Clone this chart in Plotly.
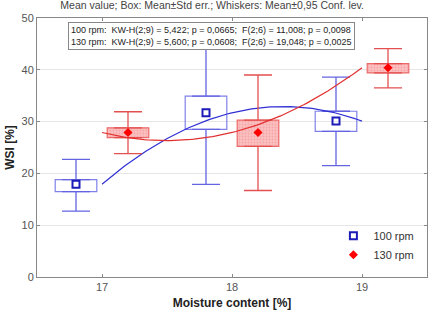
import numpy as np
import plotly.graph_objects as go

moisture = [17, 18, 19]
series = ["100 rpm", "130 rpm"]
# 100 rpm
mean_100 = [17.9, 31.7, 30.1]
box_lo_100 = [16.5, 28.5, 28.1]
box_hi_100 = [18.8, 34.9, 32.0]
wh_lo_100 = [12.7, 17.9, 21.5]
wh_hi_100 = [22.7, 45.5, 38.6]
# 130 rpm
mean_130 = [27.9, 27.9, 40.4]
box_lo_130 = [26.9, 25.2, 39.4]
box_hi_130 = [28.8, 30.3, 41.2]
wh_lo_130 = [23.8, 16.7, 36.5]
wh_hi_130 = [31.9, 39.0, 44.1]

offsets = [-0.2, 0.2]
box_width = 0.32

stats_lines = [
    "100 rpm:  KW-H(2;9) = 5,422; p = 0,0665;  F(2;6) = 11,008; p = 0,0098",
    "130 rpm:  KW-H(2;9) = 5,600; p = 0,0608;  F(2;6) = 19,048; p = 0,0025",
]

styles = [
    dict(line="#8080ea", fill="rgba(255,255,255,0)", whisk="#6464e2", curve="#3030d4",
         marker=dict(symbol="square-open", size=7, color="#1c1cb8", line=dict(width=2, color="#1c1cb8")),
         pattern=None),
    dict(line="#ec6a6a", fill="#fbc0c0", whisk="#e45050", curve="#e23030",
         marker=dict(symbol="diamond", size=7, color="#ff0000"),
         pattern=dict(shape=".", fgcolor="#f08a8a", size=3, solidity=0.3)),
]

data = [
    (mean_100, box_lo_100, box_hi_100, wh_lo_100, wh_hi_100),
    (mean_130, box_lo_130, box_hi_130, wh_lo_130, wh_hi_130),
]

fig = go.Figure()
xfine = np.linspace(min(moisture), max(moisture), 100)

for name, off, st, (m, blo, bhi, wlo, whi) in zip(series, offsets, styles, data):
    xs = [x + off for x in moisture]
    marker = dict(color=st["fill"], line=dict(color=st["line"], width=1.2))
    if st["pattern"]:
        marker["pattern"] = st["pattern"]
    fig.add_trace(go.Bar(x=xs, y=[h - l for h, l in zip(bhi, blo)], base=blo, width=box_width,
                         marker=marker, showlegend=False, hoverinfo="skip"))
    # upper whiskers
    fig.add_trace(go.Scatter(x=xs, y=bhi, mode="markers", marker=dict(size=0.1, opacity=0),
                             error_y=dict(type="data", symmetric=False,
                                          array=[w - b for w, b in zip(whi, bhi)],
                                          arrayminus=[0] * 3, color=st["whisk"], thickness=1.3, width=14),
                             showlegend=False, hoverinfo="skip"))
    # lower whiskers
    fig.add_trace(go.Scatter(x=xs, y=blo, mode="markers", marker=dict(size=0.1, opacity=0),
                             error_y=dict(type="data", symmetric=False,
                                          array=[0] * 3,
                                          arrayminus=[b - w for w, b in zip(wlo, blo)],
                                          color=st["whisk"], thickness=1.3, width=14),
                             showlegend=False, hoverinfo="skip"))
    # fitted quadratic through means
    coef = np.polyfit(moisture, m, 2)
    fig.add_trace(go.Scatter(x=xfine, y=np.polyval(coef, xfine), mode="lines",
                             line=dict(color=st["curve"], width=1.2), showlegend=False, hoverinfo="skip"))
    fig.add_trace(go.Scatter(x=xs, y=m, mode="markers", marker=st["marker"], name=name))

fig.add_annotation(
    x=0.08, y=0.985, xref="paper", yref="paper", xanchor="left", yanchor="top",
    text="<br>".join(stats_lines), showarrow=False, align="left",
    font=dict(family="Liberation Sans, Arial", size=9, color="#222"),
    bgcolor="white", bordercolor="#888", borderwidth=1, borderpad=2,
)

axis_common = dict(showline=True, linecolor="#888", linewidth=1, mirror="ticks",
                   ticks="inside", ticklen=3, tickcolor="#888",
                   tickfont=dict(family="Liberation Sans, Arial", size=11, color="#555"))

fig.update_layout(
    width=433, height=318,
    margin=dict(l=37, r=6, t=18, b=41),
    paper_bgcolor="white", plot_bgcolor="white",
    barmode="overlay",
    title=dict(text="Mean value; Box: Mean±Std err.; Whiskers: Mean±0,95 Conf. lev.",
               x=0.49, xanchor="center", y=0.995, yanchor="top",
               font=dict(family="Liberation Sans, Arial", size=10.5, color="#444")),
    xaxis=dict(range=[16.5, 19.5], tickvals=moisture, ticktext=[str(v) for v in moisture],
               showgrid=False, zeroline=False,
               title=dict(text="<b>Moisture content [%]</b>", standoff=6,
                          font=dict(family="Liberation Sans, Arial", size=12, color="#222")),
               **axis_common),
    yaxis=dict(range=[0, 50], dtick=10, showgrid=True, gridcolor="#e6e6e6", zeroline=False,
               title=dict(text="<b>WSI [%]</b>", standoff=4,
                          font=dict(family="Liberation Sans, Arial", size=12, color="#222")),
               **axis_common),
    legend=dict(x=0.76, y=0.215, xanchor="left", yanchor="top", bgcolor="rgba(255,255,255,0)",
                font=dict(family="Liberation Sans, Arial", size=11, color="#333"),
                tracegroupgap=0, itemsizing="trace", itemwidth=30),
    showlegend=True,
)

fig.write_html("out.html")
